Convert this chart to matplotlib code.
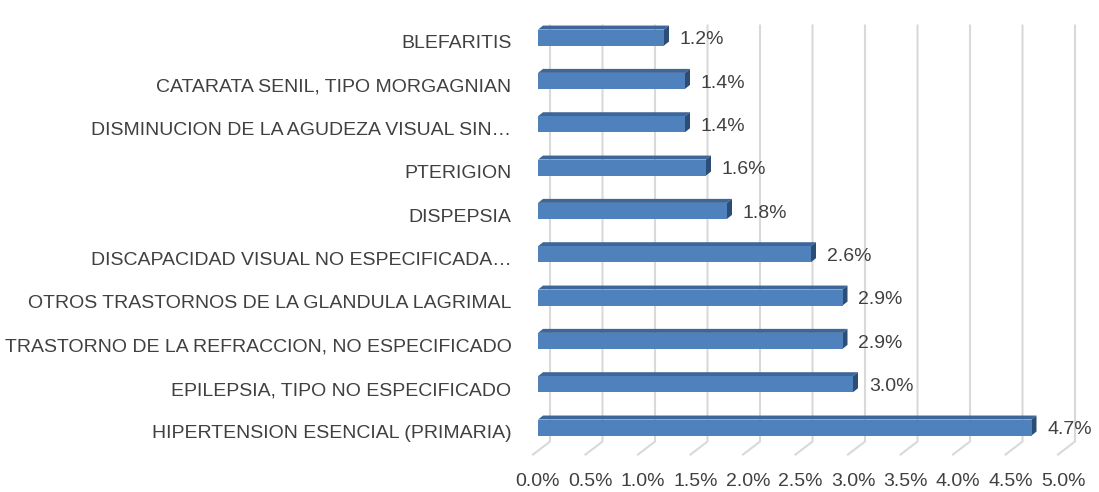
import matplotlib.pyplot as plt
from matplotlib.patches import Rectangle, Polygon
import numpy as np

# %% data
categories = [
    'HIPERTENSION ESENCIAL (PRIMARIA)',
    'EPILEPSIA, TIPO NO ESPECIFICADO',
    'TRASTORNO DE LA REFRACCION, NO ESPECIFICADO',
    'OTROS TRASTORNOS DE LA GLANDULA LAGRIMAL',
    'DISCAPACIDAD VISUAL NO ESPECIFICADA…',
    'DISPEPSIA',
    'PTERIGION',
    'DISMINUCION DE LA AGUDEZA VISUAL SIN…',
    'CATARATA SENIL, TIPO MORGAGNIAN',
    'BLEFARITIS',
]
values = [4.7, 3.0, 2.9, 2.9, 2.6, 1.8, 1.6, 1.4, 1.4, 1.2]
xticks = np.arange(0, 5.01, 0.5)

# %% style
plt.rcParams['font.family'] = ['Liberation Sans', 'DejaVu Sans']
front_col = '#4F81BD'
top_col = '#3D6699'
side_col = '#2C4D75'
grid_col = '#D9D9D9'
text_col = '#404040'

px_x = 5 / 525          # data units per pixel (x)
px_y = 1 / 43.33        # data units per pixel (y)
bar_h = 16 * px_y
dep_x, dep_y = 5 * px_x, 4 * px_y
back_dx = 12 * px_x

fig = plt.figure(figsize=(10.99, 4.92), dpi=100)
ax = fig.add_axes([538 / 1099, 1 - 449.2 / 492, 525 / 1099, 433.3 / 492])
ax.set_xlim(0, 5)
ax.set_ylim(-0.5, 9.5)
for s in ax.spines.values():
    s.set_visible(False)

# %% gridlines (back wall + floor diagonal)
y_top = 9 + 12 * px_y
y_bot = -14 * px_y
y_floor = -27 * px_y
for t in xticks:
    xb = t + back_dx
    ax.plot([xb, xb, xb - 17 * px_x], [y_top, y_bot, y_floor],
            color=grid_col, lw=1.5, clip_on=False, zorder=1)

# %% 3D-looking bars
for i, v in enumerate(values):
    y0 = i - bar_h / 2
    y1 = i + bar_h / 2
    ax.add_patch(Polygon([(0, y1), (v, y1), (v + dep_x, y1 + dep_y), (dep_x, y1 + dep_y)],
                         closed=True, facecolor=top_col, edgecolor='none', zorder=3))
    ax.add_patch(Polygon([(v, y0), (v + dep_x, y0 + dep_y), (v + dep_x, y1 + dep_y), (v, y1)],
                         closed=True, facecolor=side_col, edgecolor='none', zorder=3))
    ax.add_patch(Rectangle((0, y0), v, bar_h, facecolor=front_col, edgecolor='none', zorder=4))
    ax.text(v + 0.15, i - 0.05, f'{v:.1f}%', va='center', ha='left',
            fontsize=14, color=text_col, zorder=5)

# %% axis labels
ax.set_yticks(np.arange(len(categories)) - 0.1)
ax.set_yticklabels(categories, fontsize=14, color=text_col)
ax.set_xticks(xticks)
ax.set_xticklabels([f'{t:.1f}%' for t in xticks], fontsize=14, color=text_col)
ax.tick_params(axis='both', length=0)
ax.tick_params(axis='x', pad=17)
ax.tick_params(axis='y', pad=19)

fig.savefig('out.png', dpi=100)
